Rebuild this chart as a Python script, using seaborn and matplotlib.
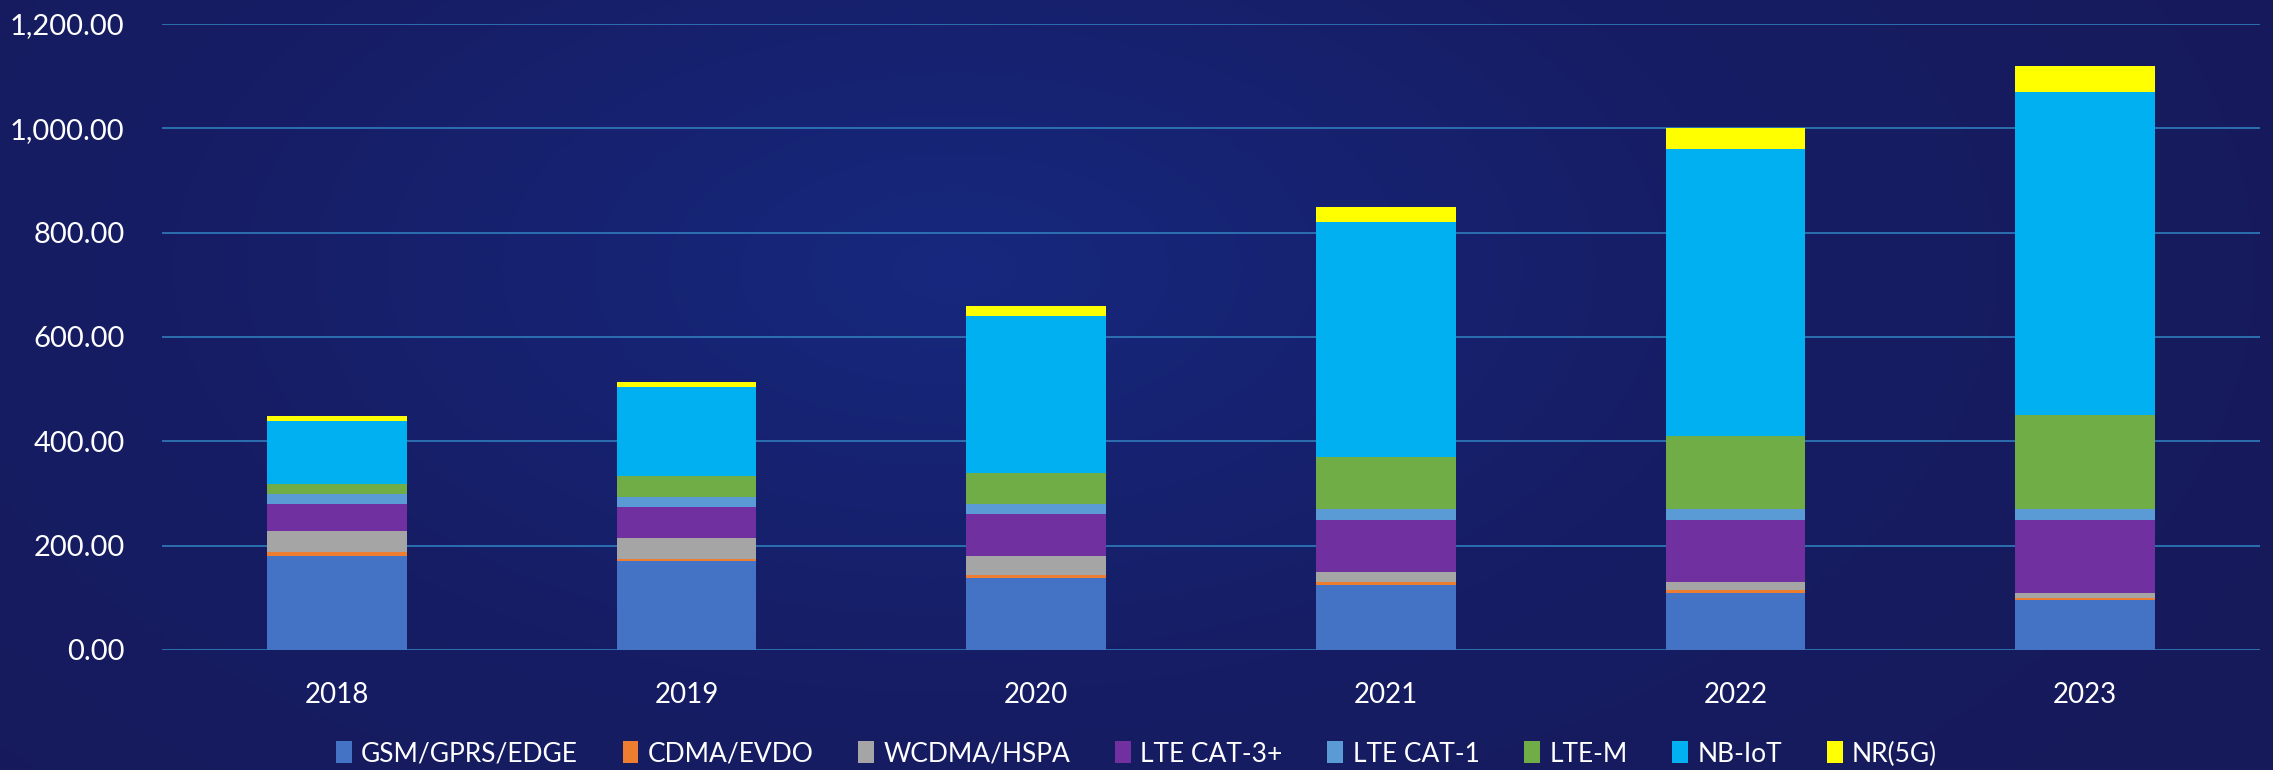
import numpy as np
import pandas as pd
import seaborn as sns
import matplotlib.pyplot as plt
from matplotlib.patches import Patch
from matplotlib.colors import LinearSegmentedColormap
from matplotlib.ticker import StrMethodFormatter

years = ['2018', '2019', '2020', '2021', '2022', '2023']
series = ['GSM/GPRS/EDGE', 'CDMA/EVDO', 'WCDMA/HSPA', 'LTE CAT-3+',
          'LTE CAT-1', 'LTE-M', 'NB-IoT', 'NR(5G)']

gsm = [180, 170, 138, 125, 110, 95]
cdma = [8, 4, 5, 5, 5, 5]
wcdma = [41, 40, 37, 20, 15, 10]
lte_cat3 = [50, 60, 80, 100, 120, 140]
lte_cat1 = [20, 20, 20, 20, 20, 20]
lte_m = [20, 40, 60, 100, 140, 180]
nb_iot = [120, 170, 300, 450, 550, 620]
nr_5g = [10, 10, 20, 30, 40, 50]

colors = ['#4472C4', '#ED7D31', '#A5A5A5', '#7030A0',
          '#5B9BD5', '#70AD47', '#00B0F0', '#FFFF00']

df = pd.DataFrame({'year': years, 'GSM/GPRS/EDGE': gsm, 'CDMA/EVDO': cdma,
                   'WCDMA/HSPA': wcdma, 'LTE CAT-3+': lte_cat3, 'LTE CAT-1': lte_cat1,
                   'LTE-M': lte_m, 'NB-IoT': nb_iot, 'NR(5G)': nr_5g})
cum = df[series].cumsum(axis=1)
cum['year'] = df['year']

sns.set_style("white")
plt.rcParams['font.family'] = ['Lato', 'DejaVu Sans']

fig = plt.figure(figsize=(22.73, 7.7), dpi=100)

# dark blue background with a soft glow
bg = fig.add_axes([0, 0, 1, 1], zorder=-10)
yy, xx = np.mgrid[0:1:300j, 0:1:900j]
r = np.sqrt(((xx - 0.42) * 1.6) ** 2 + ((yy - 0.35) * 1.0) ** 2)
cmap = LinearSegmentedColormap.from_list('bg', ['#16287e', '#161d64', '#171a5a'])
bg.imshow(r, cmap=cmap, aspect='auto', extent=[0, 1, 0, 1], vmin=0, vmax=1.1)
bg.axis('off')

ax = fig.add_axes([162 / 2273, 1 - 650 / 770, (2260 - 162) / 2273, (650 - 24) / 770])
ax.set_facecolor('none')

# stacked bars: draw cumulative totals from top layer down
for s, c in reversed(list(zip(series, colors))):
    sns.barplot(data=cum, x='year', y=s, color=c, saturation=1, width=0.4,
                linewidth=0, edgecolor='none', ax=ax, zorder=3)

ax.set_ylim(0, 1200)
ax.set_yticks(range(0, 1201, 200))
ax.yaxis.set_major_formatter(StrMethodFormatter('{x:,.2f}'))
ax.grid(axis='y', color='#2E75B6', linewidth=1.3)
ax.grid(axis='x', visible=False)
ax.set_axisbelow(True)
for sp in ax.spines.values():
    sp.set_visible(False)
ax.set_xlabel('')
ax.set_ylabel('')
ax.tick_params(axis='y', length=0, colors='white', labelsize=21, pad=27)
ax.tick_params(axis='x', length=0, colors='white', labelsize=20, pad=23)

handles = [Patch(facecolor=c, edgecolor='none') for c in colors]
fig.legend(handles, series, loc='center', bbox_to_anchor=(0.5, 16 / 770), ncol=8,
           frameon=False, fontsize=19, labelcolor='white', handlelength=0.6,
           handleheight=0.9, handletextpad=0.35, columnspacing=1.7)

fig.savefig('out.png', dpi=100)
